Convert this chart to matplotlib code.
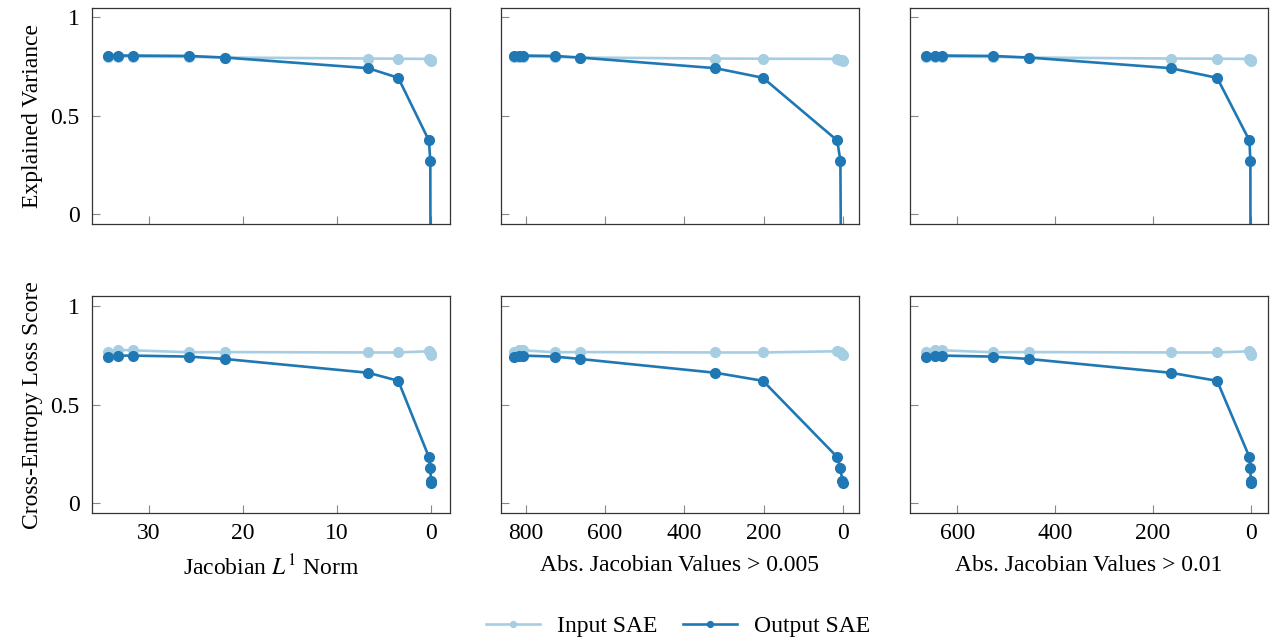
import matplotlib
matplotlib.use("Agg")
import matplotlib.pyplot as plt

plt.rcParams['font.family'] = 'Liberation Serif'
plt.rcParams['mathtext.fontset'] = 'stix'

# x-axis metrics (shared by both SAEs)
l1_norm = [34.3, 33.2, 31.7, 25.7, 21.9, 6.7, 3.5, 0.25, 0.1, 0.03, 0.01]
abs_005 = [829, 817, 807, 726, 663, 322, 202, 15, 7, 2, 1]
abs_01 = [664, 646, 631, 528, 454, 164, 69, 3, 1, 0.3, 0.1]

# explained variance
ev_input = [0.800, 0.800, 0.800, 0.799, 0.796, 0.791, 0.790, 0.789, 0.786, 0.782, 0.780]
ev_output = [0.806, 0.806, 0.806, 0.804, 0.796, 0.742, 0.693, 0.375, 0.272, -1.5, -4.0]

# cross-entropy loss score
ce_input = [0.769, 0.778, 0.776, 0.766, 0.767, 0.765, 0.765, 0.771, 0.766, 0.758, 0.752]
ce_output = [0.740, 0.749, 0.749, 0.744, 0.732, 0.662, 0.621, 0.234, 0.180, 0.110, 0.100]

x_data = [l1_norm, abs_005, abs_01]
x_labels = ["Jacobian $L^1$ Norm", "Abs. Jacobian Values > 0.005", "Abs. Jacobian Values > 0.01"]
x_lims = [(36, -2), (862, -40), (697, -35)]
x_ticks = [[30, 20, 10, 0], [800, 600, 400, 200, 0], [600, 400, 200, 0]]

light = '#a6cee3'
dark = '#1f78b4'

fig, axes = plt.subplots(2, 3, figsize=(12.71, 6.41), dpi=100)
fig.subplots_adjust(left=92/1271, right=1268/1271, top=1-7.5/641, bottom=1-513/641,
                    wspace=0.142, hspace=0.333)

rows = [(ev_input, ev_output, "Explained Variance"),
        (ce_input, ce_output, "Cross-Entropy Loss Score")]

for r, (yin, yout, ylab) in enumerate(rows):
    for c in range(3):
        ax = axes[r, c]
        l1, = ax.plot(x_data[c], yin, '-o', color=light, lw=1.9, ms=7, label='Input SAE')
        l2, = ax.plot(x_data[c], yout, '-o', color=dark, lw=1.9, ms=7, label='Output SAE')
        ax.set_xlim(*x_lims[c])
        ax.set_ylim(-0.05, 1.05)
        ax.set_xticks(x_ticks[c])
        ax.set_yticks([0, 0.5, 1])
        ax.tick_params(direction='in', length=6, color='#888888', labelsize=17)
        ax.tick_params(axis='y', pad=9)
        ax.tick_params(axis='x', pad=7)
        for s in ax.spines.values():
            s.set_linewidth(0.9)
            s.set_color('#333333')
        if c == 0:
            ax.set_yticklabels(['0', '0.5', '1'])
            ax.set_ylabel(ylab, fontsize=17, labelpad=5)
        else:
            ax.set_yticklabels([])
        if r == 0:
            ax.set_xticklabels([])
        else:
            ax.set_xlabel(x_labels[c], fontsize=17, labelpad=8)

fig.legend([l1, l2], ['Input SAE', 'Output SAE'], loc='center', bbox_to_anchor=(678/1271, 1-626/641),
           ncol=2, frameon=False, fontsize=17, markerscale=0.6, handlelength=2.3,
           handletextpad=0.7, columnspacing=1.1)

fig.savefig('out.png', dpi=100)
